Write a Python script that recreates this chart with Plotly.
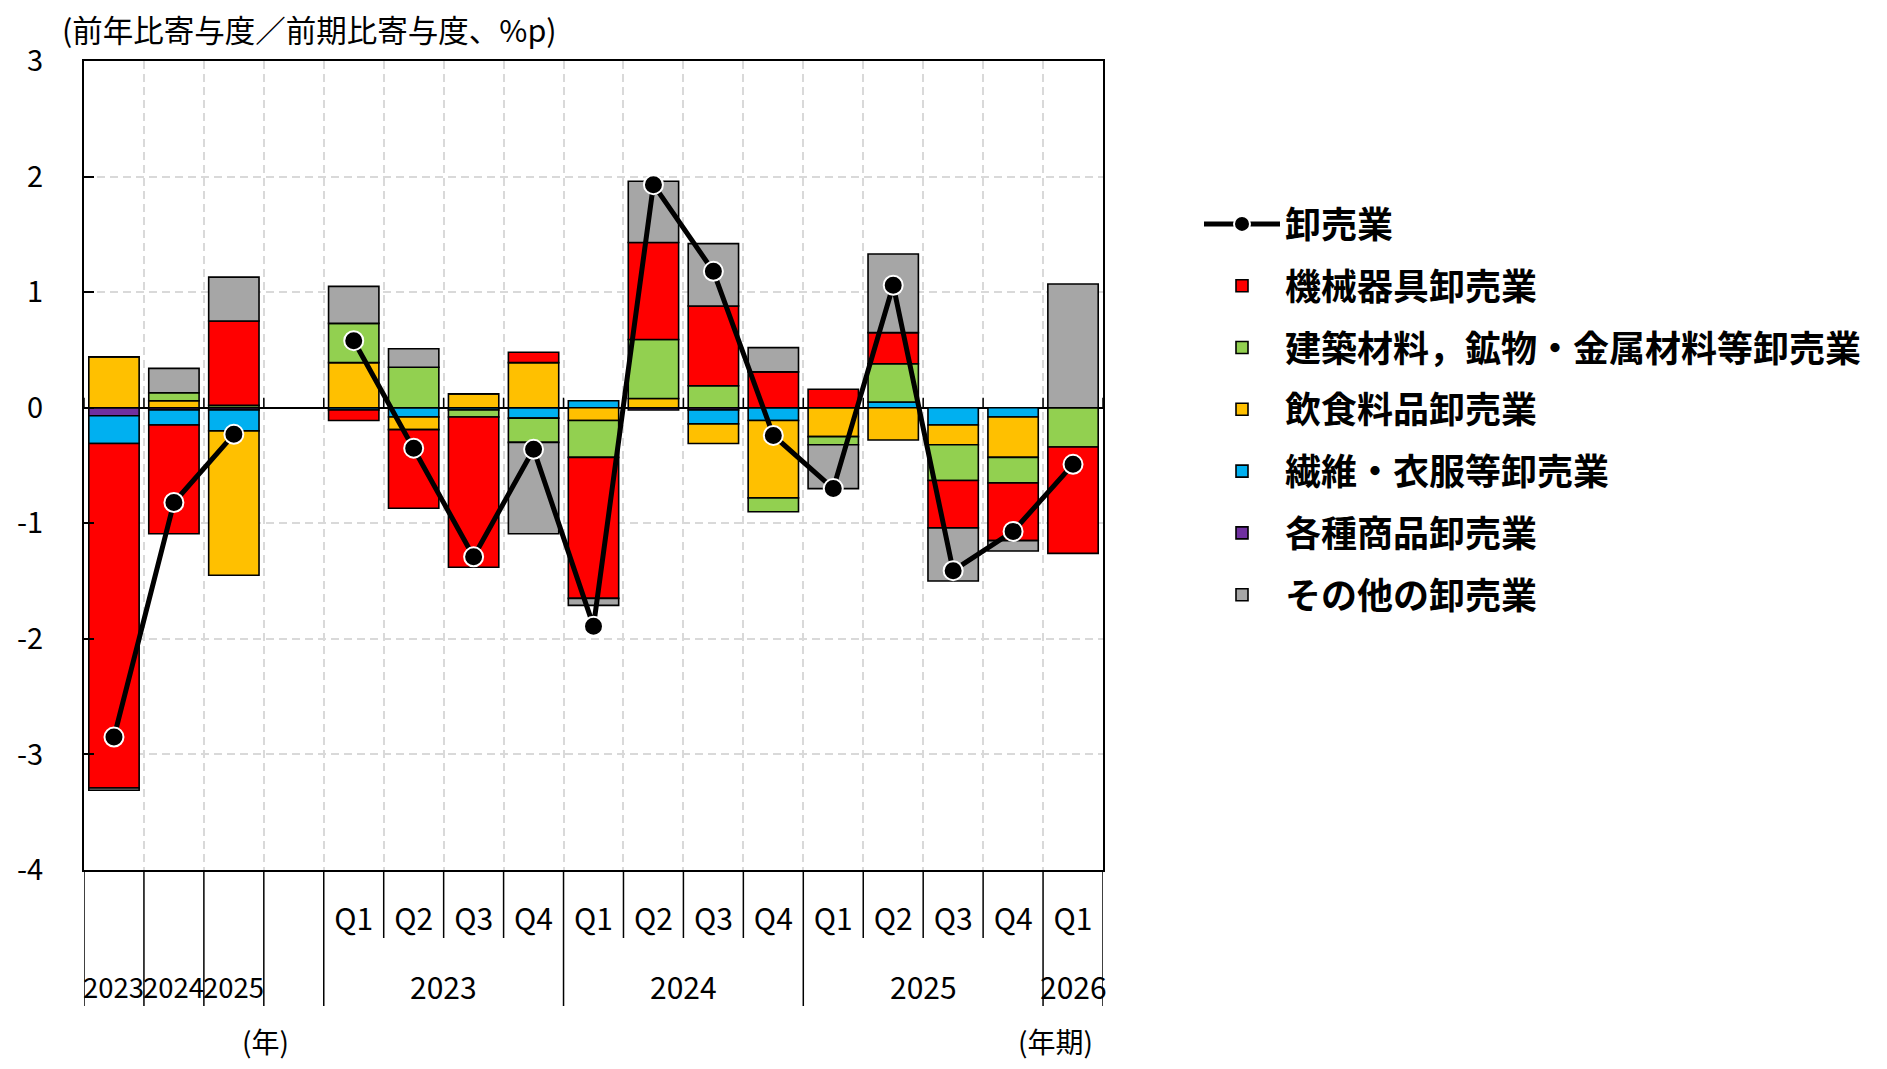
import plotly.graph_objects as go

# ---------------- data ----------------
categories = ["2023年", "2024年", "2025年", "空白",
              "2023Q1", "2023Q2", "2023Q3", "2023Q4",
              "2024Q1", "2024Q2", "2024Q3", "2024Q4",
              "2025Q1", "2025Q2", "2025Q3", "2025Q4", "2026Q1"]
quarter_labels = ["", "", "", "", "Q1", "Q2", "Q3", "Q4", "Q1", "Q2", "Q3", "Q4",
                  "Q1", "Q2", "Q3", "Q4", "Q1"]
annual_years = ["2023", "2024", "2025"]
quarter_years = ["2023", "2024", "2025", "2026"]

various = [-0.07, -0.02, -0.02, None, 0, 0, 0, 0, 0, -0.02, -0.02, 0, 0, 0, 0, 0, 0]
textile = [-0.24, -0.13, -0.18, None, -0.02, -0.08, -0.02, -0.09, 0.06, 0, -0.12, -0.11,
           0, 0.05, -0.15, -0.08, 0]
food = [0.44, 0.06, -1.25, None, 0.39, -0.11, 0.12, 0.39, -0.11, 0.08, -0.17, -0.67,
        -0.25, -0.28, -0.17, -0.35, 0]
building = [0, 0.07, 0.02, None, 0.34, 0.35, -0.06, -0.21, -0.32, 0.51, 0.19, -0.12,
            -0.07, 0.33, -0.31, -0.22, -0.34]
machinery = [-2.98, -0.94, 0.73, None, -0.09, -0.68, -1.30, 0.09, -1.22, 0.84, 0.69, 0.31,
             0.16, 0.27, -0.41, -0.50, -0.92]
others = [-0.02, 0.21, 0.38, None, 0.32, 0.16, 0, -0.79, -0.06, 0.53, 0.54, 0.21,
          -0.38, 0.68, -0.46, -0.09, 1.07]
wholesale = [-2.85, -0.82, -0.23, None, 0.58, -0.35, -1.29, -0.36, -1.89, 1.93, 1.18, -0.24,
             -0.70, 1.06, -1.41, -1.07, -0.49]

y_tick_vals = [-4, -3, -2, -1, 0, 1, 2, 3]
y_tick_text = ["-4", "-3", "-2", "-1", "0", "1", "2", "3"]

FONT = "Noto Sans CJK JP"

# (name, values, color, legend rank) in stacking order
bar_series = [
    ("各種商品卸売業", various, "#7030A0", 6),
    ("繊維・衣服等卸売業", textile, "#00B0F0", 5),
    ("飲食料品卸売業", food, "#FFC000", 4),
    ("建築材料，鉱物・金属材料等卸売業", building, "#92D050", 3),
    ("機械器具卸売業", machinery, "#FF0000", 2),
    ("その他の卸売業", others, "#A6A6A6", 7),
]

fig = go.Figure()
for name, vals, color, rank in bar_series:
    fig.add_trace(go.Bar(
        x=categories, y=vals, name=name, legendrank=rank, legendgroup=name,
        marker=dict(color=color, line=dict(color="black", width=1.6)),
        width=0.84,
    ))

fig.add_trace(go.Scatter(
    x=categories, y=wholesale, name="卸売業", legendrank=1, legendgroup="卸売業",
    mode="lines+markers", connectgaps=False,
    line=dict(color="black", width=5),
    marker=dict(color="black", size=19, line=dict(color="white", width=2)),
))

n = len(categories)

# plot area placement (page pixels) ; body has an 8px margin
PL, PR, PT, PB = 84, 1103, 61, 870
BODY = 8
W, H = 1887 - 2 * BODY, 1069 - 2 * BODY
pw, ph = PR - PL, PB - PT


def py(pix):
    return (PB - pix) / ph


def px(pix):
    return (pix - PL) / pw


# divider lines under the plot (category boundaries)
long_bounds = [0, 1, 2, 3, 4, 8, 12, 16, 17]
shapes = []
for b in range(n + 1):
    y_end = py(1006) if b in long_bounds else py(938)
    shapes.append(dict(type="line", xref="x", yref="paper", x0=b - 0.5, x1=b - 0.5,
                       y0=0, y1=y_end, line=dict(color="black", width=1.5)))
    # small ticks on the zero line
    shapes.append(dict(type="line", xref="x", yref="y", x0=b - 0.5, x1=b - 0.5,
                       ysizemode="pixel", yanchor=0, y0=0, y1=10,
                       line=dict(color="black", width=1.5)))

annotations = []
for yr in annual_years:
    idx = categories.index(yr + "年")
    annotations.append(dict(x=idx, y=py(986), xref="x", yref="paper", text=yr,
                            xanchor="center", yanchor="middle",
                            showarrow=False, font=dict(size=27.5, color="black")))
for yr in quarter_years:
    idxs = [i for i, c in enumerate(categories) if c.startswith(yr + "Q")]
    annotations.append(dict(x=sum(idxs) / len(idxs), y=py(986), xref="x", yref="paper",
                            text=yr, xanchor="center", yanchor="middle",
                            showarrow=False, font=dict(size=30, color="black")))

annotations.append(dict(x=2.52, y=py(1041), xref="x", yref="paper", text="(年)",
                        xanchor="center", yanchor="middle",
                        showarrow=False, font=dict(size=28, color="black")))
annotations.append(dict(x=15.7, y=py(1041), xref="x", yref="paper", text="(年期)",
                        xanchor="center", yanchor="middle",
                        showarrow=False, font=dict(size=28, color="black")))
annotations.append(dict(x=px(60), y=py(29), xref="paper", yref="paper",
                        text="(前年比寄与度／前期比寄与度、%p)",
                        showarrow=False, xanchor="left", yanchor="middle",
                        font=dict(size=30.5, color="black")))

fig.update_layout(
    width=W, height=H,
    margin=dict(l=PL - BODY, r=W - (PR - BODY), t=PT - BODY, b=H - (PB - BODY)),
    paper_bgcolor="white", plot_bgcolor="white",
    font=dict(family=FONT, color="black", size=28),
    barmode="relative", bargap=0.16,
    showlegend=True,
    legend=dict(x=px(1199), y=py(194), xanchor="left", yanchor="top",
                font=dict(size=36, weight="bold", color="black"),
                itemwidth=76, tracegroupgap=12, traceorder="grouped",
                bgcolor="rgba(0,0,0,0)"),
    shapes=shapes,
    annotations=annotations,
)

fig.update_xaxes(
    type="category", categoryorder="array", categoryarray=categories,
    range=[-0.5, n - 0.5], automargin=False,
    tickmode="array", tickvals=categories, ticktext=quarter_labels,
    ticks="", tickson="boundaries", ticklabelstandoff=22,
    tickfont=dict(size=30, color="black"),
    showgrid=True, gridcolor="#D9D9D9", gridwidth=2, griddash="8px,5px",
    showline=True, mirror=True, linecolor="black", linewidth=2,
)
fig.update_yaxes(
    range=[-4, 3], automargin=False,
    tickmode="array", tickvals=y_tick_vals, ticktext=y_tick_text,
    ticks="inside", ticklen=10, tickwidth=2, tickcolor="black",
    ticklabelstandoff=33, tickfont=dict(size=29, color="black"),
    showgrid=True, gridcolor="#D9D9D9", gridwidth=2, griddash="8px,5px",
    zeroline=True, zerolinecolor="black", zerolinewidth=2,
    showline=True, mirror=True, linecolor="black", linewidth=2,
)

fig.write_html("out.html")
